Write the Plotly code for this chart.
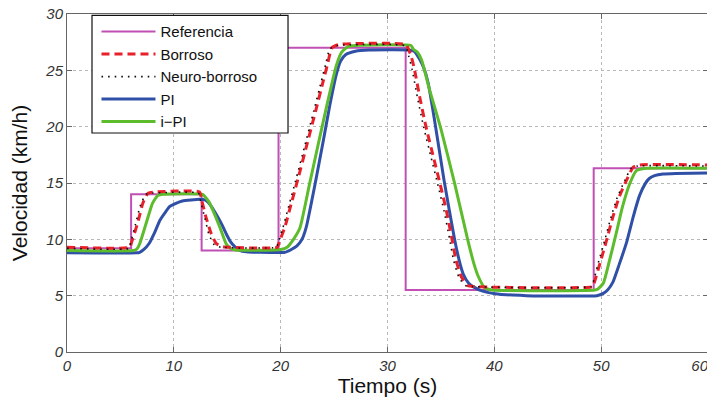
import plotly.graph_objects as go

# ---- data ----
ref_t = [0, 6.0, 12.6, 19.8, 31.7, 49.3, 60]
ref_v = [9.2, 14.0, 9.0, 27.0, 5.5, 16.3, 16.3]

bor_t = [0, 5.9, 6.0, 6.6, 7.1, 7.6, 8.2, 12.4, 12.6, 13.0, 13.5, 14.0, 14.6,
         19.7, 19.8, 20.4, 21.0, 21.6, 22.4, 23.3, 24.0, 24.4, 24.8, 25.5,
         31.7, 31.9, 32.2, 32.5, 33.0, 33.6, 34.3, 34.9, 35.5, 36.0, 36.4, 36.9, 37.5, 38.2,
         49.2, 49.3, 49.9, 50.5, 51.1, 51.7, 52.4, 53.0, 53.6, 60]
bor_v = [9.3, 9.3, 9.6, 11.4, 13.2, 14.1, 14.2, 14.2, 13.5, 12.0, 10.5, 9.6, 9.35,
         9.3, 9.6, 11.1, 13.2, 15.3, 18.2, 21.5, 24.1, 25.6, 27.0, 27.3,
         27.3, 27.0, 26.3, 25.2, 22.7, 20.0, 17.3, 15.0, 12.6, 10.2, 8.2, 6.7, 5.9, 5.8,
         5.8, 6.0, 7.9, 9.9, 12.0, 13.8, 15.3, 16.4, 16.6, 16.6]

neu_t = [0, 5.8, 5.9, 6.4, 6.9, 7.4, 8.0, 12.3, 12.5, 12.9, 13.3, 13.8, 14.4,
         19.6, 19.7, 20.2, 20.8, 21.4, 22.2, 23.1, 23.8, 24.2, 24.6, 25.3,
         31.6, 31.8, 32.0, 32.3, 32.8, 33.4, 34.1, 34.7, 35.3, 35.8, 36.2, 36.7, 37.3, 38.0,
         49.1, 49.2, 49.7, 50.3, 50.9, 51.5, 52.2, 52.8, 53.4, 60]
neu_v = [9.2, 9.2, 9.5, 11.3, 13.1, 14.0, 14.1, 14.1, 13.4, 11.9, 10.4, 9.5, 9.3,
         9.3, 9.5, 11.0, 13.1, 15.2, 18.1, 21.4, 24.0, 25.5, 26.9, 27.2,
         27.2, 26.9, 26.2, 25.1, 22.6, 19.9, 17.2, 14.9, 12.5, 10.1, 8.1, 6.6, 5.9, 5.8,
         5.8, 6.0, 7.8, 9.8, 11.9, 13.7, 15.2, 16.3, 16.5, 16.5]

pi_t = [0, 6.5, 6.8, 7.2, 7.7, 8.2, 8.7, 9.2, 9.6, 10.2, 10.8,
        12.4, 12.9, 13.2, 13.6, 14.1, 14.5, 14.9, 15.3, 15.7, 16.2, 16.8, 18.0,
        20.4, 21.0, 21.5, 22.0, 22.4, 23.2, 24.0, 24.6, 25.2, 25.6, 26.1, 27.0, 28.3,
        32.0, 32.5, 33.0, 33.4, 33.8, 34.4, 35.3, 36.3, 36.8, 37.1, 37.6, 38.0, 38.9,
        39.6, 40.5, 41.7, 43.0, 49.6,
        50.2, 50.6, 51.1, 51.7, 52.4, 53.0, 53.6, 54.1, 54.5, 55.0, 55.8, 57.0, 60]
pi_v = [8.8, 8.8, 8.85, 9.1, 9.65, 10.6, 11.7, 12.4, 12.9, 13.2, 13.4,
        13.55, 13.5, 13.3, 12.8, 12.0, 11.3, 10.5, 9.8, 9.35, 9.0, 8.9, 8.85,
        8.85, 9.1, 9.4, 10.0, 11.1, 14.8, 18.8, 21.9, 24.6, 25.8, 26.4, 26.7, 26.8,
        26.8, 26.7, 26.0, 25.2, 23.9, 20.6, 15.2, 9.9, 7.8, 6.9, 6.1, 5.8, 5.4,
        5.25, 5.12, 5.05, 5.0, 5.0,
        5.2, 5.5, 6.2, 7.8, 9.8, 12.0, 13.9, 14.9, 15.4, 15.65, 15.8, 15.85, 15.9]

ipi_t = [0, 6.2, 6.5, 6.8, 7.4, 8.0, 8.5, 9.0,
         12.7, 12.9, 13.3, 13.65, 14.3, 14.9, 15.3, 15.8,
         20.0, 20.6, 21.2, 21.8, 22.7, 23.6, 24.4, 25.2, 25.7, 26.3, 27.0,
         32.2, 32.4, 32.8, 33.2, 33.9, 35.0, 36.3, 37.5, 38.1, 38.5, 39.1, 39.8,
         49.4, 49.7, 50.2, 50.8, 51.4, 52.0, 52.7, 53.3, 54.2, 60]
ipi_v = [9.0, 9.0, 9.1, 9.6, 11.4, 13.2, 13.9, 14.0,
         14.0, 13.8, 13.3, 12.6, 11.1, 9.6, 9.2, 9.05,
         9.1, 9.3, 10.0, 11.0, 14.9, 18.8, 22.2, 25.4, 26.6, 27.1, 27.2,
         27.2, 26.9, 26.6, 25.9, 23.4, 19.8, 14.9, 10.0, 7.8, 6.7, 5.7, 5.5,
         5.5, 5.6, 6.1, 8.2, 10.5, 12.9, 15.0, 16.1, 16.3, 16.3]

x_ticks = [0, 10, 20, 30, 40, 50, 60]
# last label padded with figure spaces so it stays inside the page, as in the reference
x_tick_text = ["0", "10", "20", "30", "40", "50", "60\u2007\u2007"]
y_ticks = [0, 5, 10, 15, 20, 25, 30]

# ---- figure ----
fig = go.Figure()
fig.add_trace(go.Scatter(x=ref_t, y=ref_v, name="Referencia", mode="lines",
                         line=dict(color="#c050b4", width=2, shape="hv"), legendrank=1))
fig.add_trace(go.Scatter(x=pi_t, y=pi_v, name="PI", mode="lines",
                         line=dict(color="#3050a8", width=3, shape="spline", smoothing=0.5),
                         legendrank=4))
fig.add_trace(go.Scatter(x=ipi_t, y=ipi_v, name="i\u2212PI", mode="lines",
                         line=dict(color="#5cbc2c", width=3, shape="spline", smoothing=0.5),
                         legendrank=5))
fig.add_trace(go.Scatter(x=bor_t, y=bor_v, name="Borroso", mode="lines",
                         line=dict(color="#e8202a", width=3, dash="8px,5px",
                                   shape="spline", smoothing=0.5), legendrank=2))
fig.add_trace(go.Scatter(x=neu_t, y=neu_v, name="Neuro-borroso", mode="lines",
                         line=dict(color="#111111", width=1.6, dash="1.6px,5px",
                                   shape="spline", smoothing=0.5), legendrank=3))

axis_common = dict(showline=True, linecolor="#666", linewidth=1, mirror="ticks",
                   ticks="inside", ticklen=5, tickcolor="#666",
                   showgrid=True, gridcolor="#b8b8b8", griddash="dot", gridwidth=1,
                   zeroline=False, automargin=False, ticklabeloverflow="allow",
                   tickfont=dict(family="Liberation Sans, Arial", size=15,
                                 color="#333", style="italic"))

fig.update_xaxes(range=[0, 60], tickvals=x_ticks, ticktext=x_tick_text, **axis_common,
                 title=dict(text="Tiempo (s)", standoff=2,
                            font=dict(family="Liberation Sans, Arial", size=21, color="#111")))
fig.update_yaxes(range=[0, 30], tickvals=y_ticks, **axis_common,
                 title=dict(text="Velocidad (km/h)", standoff=14,
                            font=dict(family="Liberation Sans, Arial", size=21, color="#111")))

# the page body adds an 8px offset, so the figure is sized 8px smaller
fig.update_layout(
    width=707, height=395,
    margin=dict(l=59, r=7, t=6, b=51),
    paper_bgcolor="white", plot_bgcolor="white",
    showlegend=True,
    legend=dict(x=0.046, y=0.996, xanchor="left", yanchor="top",
                bgcolor="rgba(0,0,0,0)", borderwidth=0, itemwidth=54,
                font=dict(family="Liberation Sans, Arial", size=15, color="#111")),
    shapes=[dict(type="rect", xref="paper", yref="paper",
                 x0=0.039, x1=0.3448, y0=0.648, y1=0.996,
                 fillcolor="white", line=dict(color="#111", width=1.2), layer="above")],
)

fig.write_html("out.html")
